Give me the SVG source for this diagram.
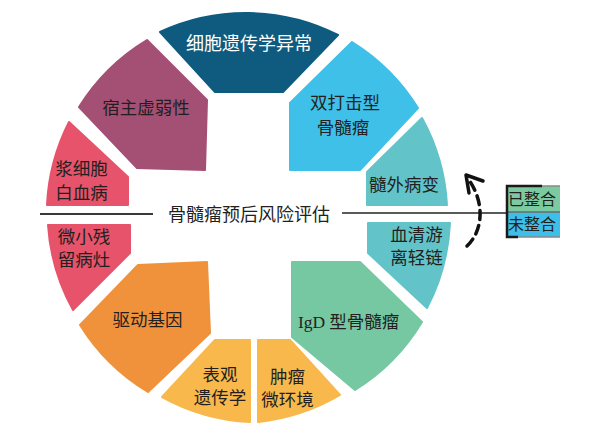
<svg xmlns="http://www.w3.org/2000/svg" width="593" height="428" viewBox="0 0 593 428">
<style>
.seg{stroke-width:2;stroke-linejoin:round}
.t{font-family:"Noto Sans CJK SC","Noto Sans CJK JP",sans-serif;font-size:17.5px;fill:#231f20;text-anchor:middle}
.w{fill:#ffffff;font-size:18px}
.bx{font-family:"Noto Sans CJK SC",sans-serif;font-size:16px;fill:#231f20}
</style>
<rect width="593" height="428" fill="#ffffff"/>
<g id="n-cyto"><path class="seg" fill="#0f5b80" stroke="#0f5b80" d="M160,32 A204,204 0 0 1 338,35 L283,92 L215,92 Z"/><text class="t w" x="249" y="49.5">细胞遗传学异常</text></g>
<g id="n-double"><path class="seg" fill="#3fc0e8" stroke="#3fc0e8" d="M352,42 A204,204 0 0 1 418,108 L360,170 L290,170 L290,103 Z"/><text class="t" x="345" y="109">双打击型</text><text class="t" x="343" y="134">骨髓瘤</text></g>
<g id="n-extra"><path class="seg" fill="#62c4c8" stroke="#62c4c8" d="M422,118 A204,204 0 0 1 447,205 L367,205 L367,172 Z"/><text class="t" x="404" y="191">髓外病变</text></g>
<g id="n-flc"><path class="seg" fill="#62c4c8" stroke="#62c4c8" d="M450,223 A204,204 0 0 1 427,308 L368,253 L368,223 Z"/><text class="t" x="416.5" y="241">血清游</text><text class="t" x="416.5" y="264">离轻链</text></g>
<g id="n-igd"><path class="seg" fill="#76c8a2" stroke="#76c8a2" d="M422,322 A204,204 0 0 1 355,390 L292,337 L292,262 L360,262 Z"/><text class="t" x="298" y="328" style="text-anchor:start"><tspan style="font-family:'Liberation Serif',serif">IgD</tspan> 型骨髓瘤</text></g>
<g id="n-micro"><path class="seg" fill="#f8b84b" stroke="#f8b84b" d="M340,395 A204,204 0 0 1 258,422 L258,340 L290,340 Z"/><text class="t" x="287.5" y="383">肿瘤</text><text class="t" x="287.5" y="406">微环境</text></g>
<g id="n-epi"><path class="seg" fill="#f8b84b" stroke="#f8b84b" d="M250,422 A204,204 0 0 1 162,397 L215,340 L250,340 Z"/><text class="t" x="220" y="381">表观</text><text class="t" x="220" y="404">遗传学</text></g>
<g id="n-driver"><path class="seg" fill="#f0923b" stroke="#f0923b" d="M148,392 A204,204 0 0 1 80,325 L138,265 L207,262 L210,333 Z"/><text class="t" x="147.5" y="326">驱动基因</text></g>
<g id="n-mrd"><path class="seg" fill="#e6536a" stroke="#e6536a" d="M73,310 A204,204 0 0 1 48,225 L130,225 L130,253 Z"/><text class="t" x="84" y="243">微小残</text><text class="t" x="84" y="266">留病灶</text></g>
<g id="n-pcl"><path class="seg" fill="#e6536a" stroke="#e6536a" d="M47,205 A204,204 0 0 1 69,122 L128,177 L128,205 Z"/><text class="t" x="81.5" y="175">浆细胞</text><text class="t" x="81.5" y="198.5">白血病</text></g>
<g id="n-host"><path class="seg" fill="#a44f74" stroke="#a44f74" d="M79,107 A204,204 0 0 1 147,40 L207,100 L205,170 L137,168 Z"/><text class="t" x="146" y="114">宿主虚弱性</text></g>
<g id="n-center"><line x1="40" y1="214" x2="153" y2="214" stroke="#3a3a3a" stroke-width="2"/><line x1="342" y1="213" x2="507" y2="213" stroke="#5a5a5a" stroke-width="2"/><text class="t" x="249" y="221" style="font-size:18px">骨髓瘤预后风险评估</text></g>
<g id="n-status">
<rect x="507" y="186" width="53" height="26" fill="#7ccba0"/>
<rect x="507" y="212" width="53" height="25" fill="#3dbfe9"/>
<line x1="507" y1="212" x2="560" y2="212" stroke="#6a6a6a" stroke-width="1.5"/>
<line x1="542" y1="186" x2="560" y2="186" stroke="#888" stroke-width="1.5"/>
<line x1="518" y1="237" x2="560" y2="237" stroke="#888" stroke-width="1.5"/>
<path d="M542,186 L507,186 L507,237 L518,237" fill="none" stroke="#1a1a1a" stroke-width="2.5"/>
<text class="bx" x="508" y="205">已整合</text>
<text class="bx" x="508" y="230">未整合</text>
</g>
<g id="connectors">
<path d="M467,246 C482,232 486,205 469,180" fill="none" stroke="#111" stroke-width="3.5" stroke-dasharray="9 6" stroke-linecap="round"/>
<path d="M469,193 L466,175 L483,181" fill="none" stroke="#111" stroke-width="3.5" stroke-linecap="round" stroke-linejoin="round"/>
</g>
</svg>
